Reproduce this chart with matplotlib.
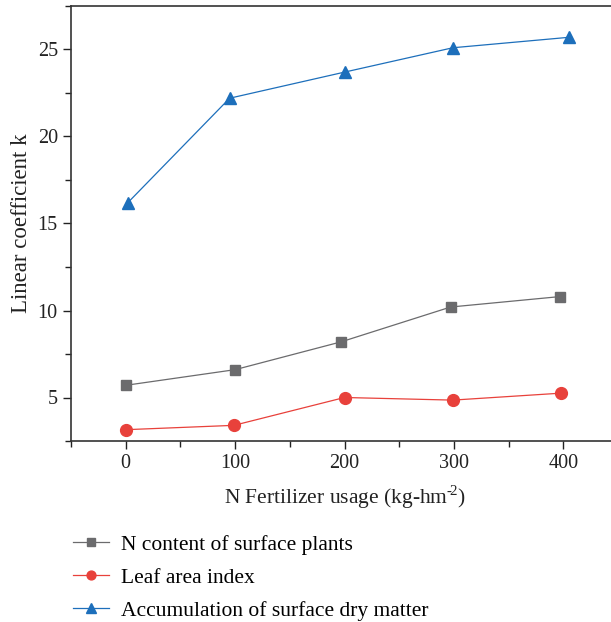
import matplotlib
matplotlib.use("Agg")
import matplotlib.pyplot as plt
from matplotlib.ticker import MultipleLocator

plt.rcParams['font.family'] = ['Liberation Serif', 'DejaVu Serif']
plt.rcParams['mathtext.fontset'] = 'custom'
plt.rcParams['mathtext.rm'] = 'Liberation Serif'

# Data
x_n = [0, 100, 197, 297, 397]
n_content = [5.7, 6.6, 8.2, 10.2, 10.8]
x_leaf = [0, 99, 200, 299, 398]
leaf_area = [3.15, 3.4, 5.0, 4.85, 5.25]
x_dry = [2, 95, 200, 299, 405]
dry_matter = [16.2, 22.2, 23.7, 25.1, 25.7]

labels = ["N content of surface plants", "Leaf area index", "Accumulation of surface dry matter"]
grey = "#6b6b6d"
red = "#e8413b"
blue = "#1d6fbb"

fig = plt.figure(figsize=(6.11, 6.22), dpi=100)
W, H = 611, 622
ax = fig.add_axes([71 / W, 1 - 441 / H, (618 - 71) / W, (441 - 6) / H])

l1, = ax.plot(x_n, n_content, color=grey, lw=0.9, marker='s', ms=7.5, label=labels[0])
l2, = ax.plot(x_leaf, leaf_area, color=red, lw=0.9, marker='o', ms=8.5, label=labels[1])
l3, = ax.plot(x_dry, dry_matter, color=blue, lw=0.9, marker='^', ms=9, label=labels[2])

ax.set_xlim(-50, 450)
ax.set_ylim(2.5, 27.5)
ax.xaxis.set_major_locator(MultipleLocator(100))
ax.xaxis.set_minor_locator(MultipleLocator(50))
ax.yaxis.set_major_locator(MultipleLocator(5))
ax.yaxis.set_minor_locator(MultipleLocator(2.5))
ax.tick_params(which='both', direction='out', colors='#222222', labelsize=14.5, width=1)
ax.tick_params(which='major', length=6)
ax.tick_params(which='minor', length=4)
for s in ax.spines.values():
    s.set_color('#333333')
    s.set_linewidth(1.2)

ax.set_xlabel("N Fertilizer usage (kg-hm$^{\u2010\\!2}$)", fontsize=15.5, color='#222222', labelpad=7)
ax.set_ylabel("Linear coefficient k", fontsize=16.5, color='#222222', labelpad=4)

fig.legend(handles=[l1, l2, l3], loc='upper left', bbox_to_anchor=(64 / W, 1 - 526 / H),
           frameon=False, fontsize=15.5, handlelength=1.7, handletextpad=0.55,
           labelspacing=0.6, borderaxespad=0, markerscale=0.75)

fig.savefig("out.png", dpi=100)
